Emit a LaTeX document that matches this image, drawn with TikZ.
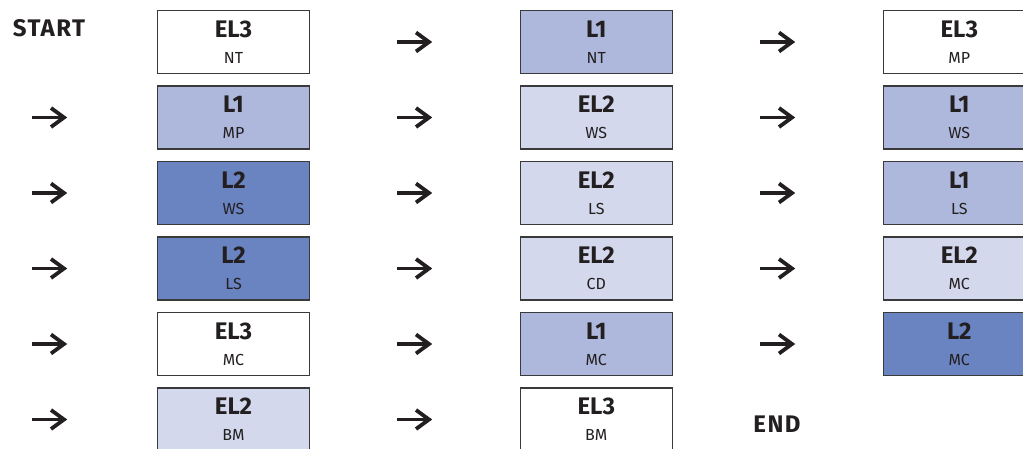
\documentclass[tikz,border=0pt]{standalone}
\usepackage{fontspec}
\setmainfont{Fira Sans}
\definecolor{ink}{HTML}{231F20}
\definecolor{boxline}{HTML}{3A3A3A}
\definecolor{lvonefill}{HTML}{AEB8DC}
\definecolor{eltwofill}{HTML}{D3D8EC}
\definecolor{lvtwofill}{HTML}{6A83C1}
\begin{document}
\begin{tikzpicture}[x=1pt,y=-1pt,
  stepbox/.style={draw=boxline, line width=1.2pt, minimum width=152pt, minimum height=63pt,
    inner sep=0pt, align=center, text=ink, font=\fontsize{16}{26}\selectfont},
  elthree/.style={stepbox, fill=white},
  lvone/.style={stepbox, fill=lvonefill},
  eltwo/.style={stepbox, fill=eltwofill},
  lvtwo/.style={stepbox, fill=lvtwofill},
  arrowline/.style={draw=ink, line width=3.8pt, miter limit=10},
  go/.pic={\draw[arrowline] (-18,0) -- (13,0); \draw[arrowline] (1,-9.5) -- (14,0) -- (1,9.5);},
  tag/.style={text=ink, inner sep=0pt, font=\bfseries\fontsize{24}{24}\selectfont\addfontfeature{LetterSpace=6}}]
\useasboundingbox (0,0) rectangle (1023,449);
% first column
\node[tag] (start) at (49,28) {START};
\node[elthree] (s1) at (233.5,42) {{\bfseries\fontsize{24}{26}\selectfont EL3}\\NT};
\pic (a2) at (50,117.5) {go};
\node[lvone] (s2) at (233.5,117.5) {{\bfseries\fontsize{24}{26}\selectfont L1}\\MP};
\pic (a3) at (50,193) {go};
\node[lvtwo] (s3) at (233.5,193) {{\bfseries\fontsize{24}{26}\selectfont L2}\\WS};
\pic (a4) at (50,268.5) {go};
\node[lvtwo] (s4) at (233.5,268.5) {{\bfseries\fontsize{24}{26}\selectfont L2}\\LS};
\pic (a5) at (50,344) {go};
\node[elthree] (s5) at (233.5,344) {{\bfseries\fontsize{24}{26}\selectfont EL3}\\MC};
\pic (a6) at (50,419.5) {go};
\node[eltwo] (s6) at (233.5,419.5) {{\bfseries\fontsize{24}{26}\selectfont EL2}\\BM};
% second column
\pic (a7) at (415,42) {go};
\node[lvone] (s7) at (596.3,42) {{\bfseries\fontsize{24}{26}\selectfont L1}\\NT};
\pic (a8) at (415,117.5) {go};
\node[eltwo] (s8) at (596.3,117.5) {{\bfseries\fontsize{24}{26}\selectfont EL2}\\WS};
\pic (a9) at (415,193) {go};
\node[eltwo] (s9) at (596.3,193) {{\bfseries\fontsize{24}{26}\selectfont EL2}\\LS};
\pic (a10) at (415,268.5) {go};
\node[eltwo] (s10) at (596.3,268.5) {{\bfseries\fontsize{24}{26}\selectfont EL2}\\CD};
\pic (a11) at (415,344) {go};
\node[lvone] (s11) at (596.3,344) {{\bfseries\fontsize{24}{26}\selectfont L1}\\MC};
\pic (a12) at (415,419.5) {go};
\node[elthree] (s12) at (596.3,419.5) {{\bfseries\fontsize{24}{26}\selectfont EL3}\\BM};
% third column
\pic (a13) at (778,42) {go};
\node[elthree] (s13) at (959.3,42) {{\bfseries\fontsize{24}{26}\selectfont EL3}\\MP};
\pic (a14) at (778,117.5) {go};
\node[lvone] (s14) at (959.3,117.5) {{\bfseries\fontsize{24}{26}\selectfont L1}\\WS};
\pic (a15) at (778,193) {go};
\node[lvone] (s15) at (959.3,193) {{\bfseries\fontsize{24}{26}\selectfont L1}\\LS};
\pic (a16) at (778,268.5) {go};
\node[eltwo] (s16) at (959.3,268.5) {{\bfseries\fontsize{24}{26}\selectfont EL2}\\MC};
\pic (a17) at (778,344) {go};
\node[lvtwo] (s17) at (959.3,344) {{\bfseries\fontsize{24}{26}\selectfont L2}\\MC};
\node[tag] (end) at (777,424) {END};
\end{tikzpicture}
\end{document}
